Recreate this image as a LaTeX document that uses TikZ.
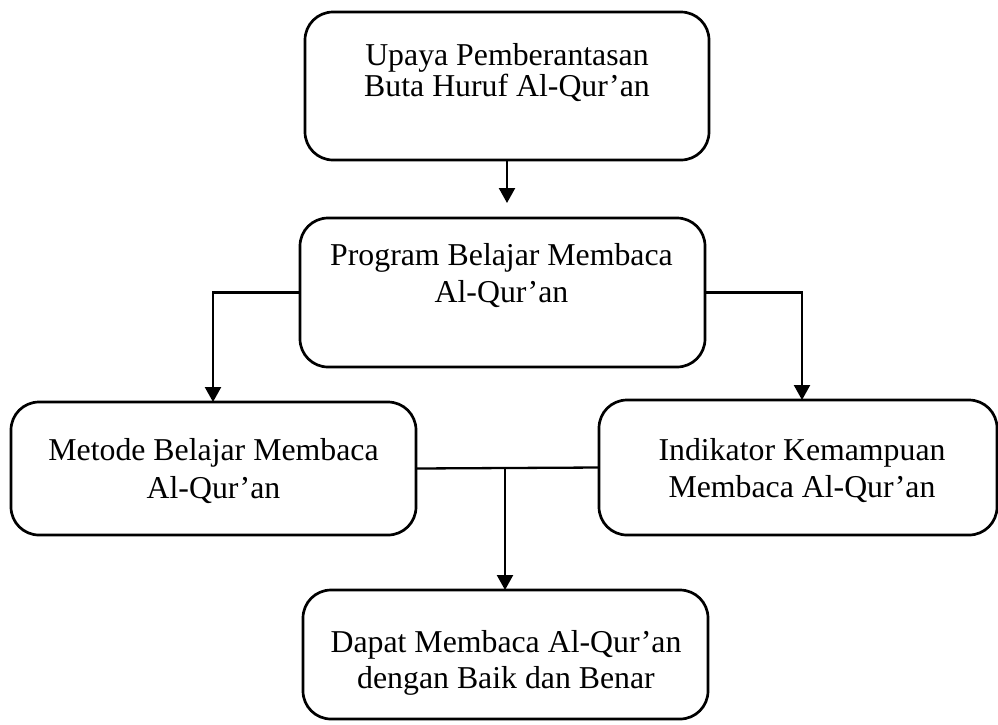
\documentclass[tikz,border=0pt]{standalone}
\usepackage{fontspec}
\setmainfont{Liberation Serif}
\usetikzlibrary{arrows.meta}
\begin{document}
\begin{tikzpicture}[x=1pt,y=-1pt,
  box/.style={draw=black,line width=2.7pt,rounded corners=28pt,inner sep=0pt,outer sep=0pt},
  txt/.style={anchor=base,inner sep=0pt,font=\fontsize{31.8}{37}\selectfont},
  conn/.style={line width=2.3pt},
  arr/.style={conn,-{Triangle[length=15pt,width=16pt]}}]
\useasboundingbox (0,0) rectangle (998,724);
% boxes
\node[box,minimum width=404pt,minimum height=148pt] (b1) at (507,86) {};
\node[box,minimum width=405pt,minimum height=149pt] (b2) at (502.5,292.5) {};
\node[box,minimum width=405pt,minimum height=133pt] (b3) at (213.5,468.5) {};
\node[box,minimum width=398pt,minimum height=135pt] (b4) at (798,467.5) {};
\node[box,minimum width=405pt,minimum height=129pt] (b5) at (505.5,654.5) {};
% texts
\node[txt] (t1a) at (507,65) {Upaya Pemberantasan};
\node[txt] (t1b) at (507,96) {Buta Huruf Al-Qur’an};
\node[txt] (t2a) at (501.5,265) {Program Belajar Membaca};
\node[txt] (t2b) at (501.5,302) {Al-Qur’an};
\node[txt] (t3a) at (213.5,460) {Metode Belajar Membaca};
\node[txt] (t3b) at (213.5,498) {Al-Qur’an};
\node[txt] (t4a) at (802,460) {Indikator Kemampuan};
\node[txt] (t4b) at (802,497) {Membaca Al-Qur’an};
\node[txt] (t5a) at (506,652) {Dapat Membaca Al-Qur’an};
\node[txt] (t5b) at (506,688) {dengan Baik dan Benar};
% connectors
\coordinate (e1) at (507,203);
\draw[arr] (b1.south) -- (e1);
\draw[arr] (b2.west) -| (b3.north -| 213,0);
\draw[arr] (b2.east) -| (b4.north -| 802,0);
\draw[conn] (b3.east) -- (b4.west);
\coordinate (j) at (505,468);
\draw[arr] (j) -- (b5.north -| j);
\end{tikzpicture}
\end{document}
